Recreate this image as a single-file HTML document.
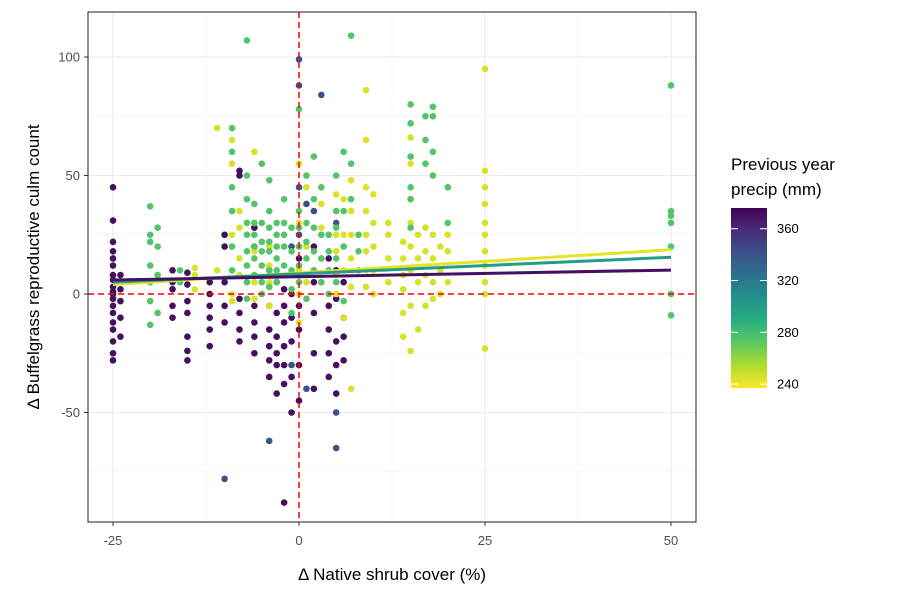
<!DOCTYPE html>
<html><head><meta charset="utf-8"><style>
body{margin:0;background:#fff;}
svg{display:block;font-family:"Liberation Sans",Arial,sans-serif;}
</style></head><body>
<svg id="chart" width="900" height="600" viewBox="0 0 900 600"></svg>
<script>
// ---- data ----
const xTicks=[-25,0,25,50];
const yTicks=[-50,0,50,100];
const legendTicks=[240,280,320,360];
const groupPrecip=[370,340,275,245];
const colX_370=[-25,-24,-17,-15,-12,-10,-8,-6,-4,-3,-2,-1,0,2,4,5,6];
const colY_370=[[45,31,22,18,15,12,8,6,3,1,0,-2,-5,-8,-12,-15,-20,-25,-28],[8,5,2,-3,-10,-18],[10,5,2,-5,-10],[9,4,-3,-8,-18,-24,-28],[5,0,-5,-10,-15,-22],[25,20,5,-5,-12],[52,50,-2,-8,-15,-20],[28,20,-5,-12,-18,-25],[10,-5,-15,-22,-28,-35],[5,-8,-18,-25,-30,-42],[2,-5,-12,-22,-30,-38,-88],[0,-10,-20,-35,-50],[15,8,-5,-15,-30,-45],[20,5,-8,-25,-40],[15,-5,-15,-25,-35],[10,-2,-20,-30,-42],[5,-10,-18,-28]];
const colX_340=[-10,-4,0,3,5,-1,1,2];
const colY_340=[[-78],[-62],[99,88,45,25],[84],[30,-50,-65],[20,-30],[38,-40],[35]];
const colX_262=[-20,-19,-16,-9,-7,-6,-5,-4,-3,-2,-1,0,1,2,3,4,5,6,7,8,15,17,18,20,50];
const colY_262=[[37,25,22,12,5,-3,-13],[28,20,8,-8],[10,5],[70,60,45,35,20,10],[107,50,40,30,25,18,12,5,-2],[38,30,25,20,15,8],[55,30,22,18,12,5,0],[48,35,28,22,18,10,3],[30,25,20,15,10,5],[40,30,25,20,12],[28,18,10,2,-8],[78,35,28,20,12,5],[50,30,22,15,8,-2],[58,40,28,18,10],[45,25,15,5],[25,18,10,0],[50,35,28,15,5],[60,35,20,-3],[109,55,40],[25,18,10],[80,72,58,45,40,28],[75,65,55],[79,75,60,50],[45,30],[88,35,33,30,20,0,-9]];
const colX_245=[-14,-11,-9,-8,-6,-4,0,1,3,5,6,7,9,10,12,14,15,16,17,18,19,20,25];
const colY_245=[[11,8,2],[70,10],[65,55,25,10,0,-3],[35,28,15,8],[60,30,18,5,-2],[20,12,5,-5],[55,30,20,10,0,-12],[45,20,5],[38,28,15,5],[42,25,18,8,0],[40,25,10,-10],[48,35,25,15,3,-40],[86,65,45,35,25,18,10,3],[42,30,20,10,0],[30,25,15,5],[22,15,8,2,-8,-18],[66,55,40,30,20,10,-5,-24],[25,15,5,-15],[28,18,8,-5],[25,15,5,-2],[20,10,0],[25,18,5],[95,52,45,38,30,25,18,12,5,0,-23]];
const linePrecip=[370,300,242];
const lineIntercept=[7.3,8.5,8.9];
const lineSlope=[0.056,0.14,0.195];
const lineXRange=[-25,50];

// ---- scales ----
const X0=88,X1=696,Y0=12,Y1=522;
const sx=v=>299+v*7.44;
const sy=v=>294-v*2.37;
const viridis=["#440154","#472d7b","#3b528b","#2c728e","#21918c","#28ae80","#5ec962","#addc30","#fde725"];
const pMin=237,pMax=376;
function col(p){let t=(pMax-p)/(pMax-pMin);t=Math.max(0,Math.min(1,t));const f=t*8,i=Math.min(7,Math.floor(f)),r=f-i;
const a=viridis[i],b=viridis[i+1];const h=(s,k)=>parseInt(s.substr(1+2*k,2),16);
return "rgb("+[0,1,2].map(k=>Math.round(h(a,k)+(h(b,k)-h(a,k))*r)).join(",")+")";}
const svg=document.getElementById('chart');const NS="http://www.w3.org/2000/svg";
function el(tag,at,txt){const e=document.createElementNS(NS,tag);for(const k in at)e.setAttribute(k,at[k]);if(txt!==undefined)e.textContent=txt;svg.appendChild(e);return e;}

// grid
[-12.5,12.5,37.5].forEach(v=>{const l=el('line',{x1:sx(v),x2:sx(v),y1:Y0,y2:Y1,stroke:'#f2f2f2','stroke-width':0.6});

});
[-75,-25,25,75].forEach(v=>{const l=el('line',{x1:X0,x2:X1,y1:sy(v),y2:sy(v),stroke:'#f2f2f2','stroke-width':0.6});

});
xTicks.forEach(v=>{const l=el('line',{x1:sx(v),x2:sx(v),y1:Y0,y2:Y1,stroke:'#ebebeb','stroke-width':1.1});


const t=el('text',{x:sx(v),y:545,'text-anchor':'middle','font-size':13,fill:'#4d4d4d'},v);


const k=el('line',{x1:sx(v),x2:sx(v),y1:Y1,y2:Y1+4,stroke:'#333'});

});
yTicks.forEach(v=>{const l=el('line',{x1:X0,x2:X1,y1:sy(v),y2:sy(v),stroke:'#ebebeb','stroke-width':1.1});


const t=el('text',{x:80,y:sy(v)+4.5,'text-anchor':'end','font-size':13,fill:'#4d4d4d'},v);


const k=el('line',{x1:X0-4,x2:X0,y1:sy(v),y2:sy(v),stroke:'#333'});

});

// points
function drawGroup(xs,ys,p){xs.forEach((x,i)=>ys[i].forEach(y=>{const c=el('circle',{cx:sx(x),cy:sy(y),r:3.3,fill:col(p)});

}));}
drawGroup(colX_370,colY_370,groupPrecip[0]);
drawGroup(colX_340,colY_340,groupPrecip[1]);
drawGroup(colX_245,colY_245,groupPrecip[3]);
drawGroup(colX_262,colY_262,groupPrecip[2]);

// reference lines
const rv=el('line',{x1:sx(0),x2:sx(0),y1:Y0,y2:Y1,stroke:'#ff0000','stroke-width':1.5,'stroke-dasharray':'6,4'});


const rh=el('line',{x1:X0,x2:X1,y1:sy(0),y2:sy(0),stroke:'#ff0000','stroke-width':1.5,'stroke-dasharray':'6,4'});



// fit lines
[2,1,0].forEach(i=>{const a=lineXRange[0],b=lineXRange[1];
const l=el('line',{x1:sx(a),y1:sy(lineIntercept[i]+lineSlope[i]*a),x2:sx(b),y2:sy(lineIntercept[i]+lineSlope[i]*b),stroke:col(linePrecip[i]),'stroke-width':3});

});

// panel border
const pb=el('rect',{x:X0,y:Y0,width:X1-X0,height:Y1-Y0,fill:'none',stroke:'#333','stroke-width':1.1});



// axis titles
const xt=el('text',{x:392,y:580,'text-anchor':'middle','font-size':17,fill:'#000'},'Δ Native shrub cover (%)');


const yt=el('text',{x:0,y:0,'text-anchor':'middle','font-size':17,fill:'#000',transform:'translate(39,267) rotate(-90)'},'Δ Buffelgrass reproductive culm count');



// legend
const lt1=el('text',{x:731,y:170,'font-size':17},'Previous year');


const lt2=el('text',{x:731,y:195,'font-size':17},'precip (mm)');


const defs=el('defs',{});
const g=document.createElementNS(NS,'linearGradient');g.setAttribute('id','vg');g.setAttribute('x1',0);g.setAttribute('y1',0);g.setAttribute('x2',0);g.setAttribute('y2',1);
viridis.forEach((c,i)=>{const s=document.createElementNS(NS,'stop');s.setAttribute('offset',i/8);s.setAttribute('stop-color',c);g.appendChild(s);});
defs.appendChild(g);
const cb=el('rect',{x:731,y:208,width:36,height:180,fill:'url(#vg)'});


const ly=p=>208+(pMax-p)/(pMax-pMin)*180;
legendTicks.forEach(v=>{
const a=el('line',{x1:731,x2:738,y1:ly(v),y2:ly(v),stroke:'#fff','stroke-width':1});


const b=el('line',{x1:760,x2:767,y1:ly(v),y2:ly(v),stroke:'#fff','stroke-width':1});


const t=el('text',{x:777,y:ly(v)+4.5,'font-size':13,fill:'#000'},v);

});
</script>
</body></html>
